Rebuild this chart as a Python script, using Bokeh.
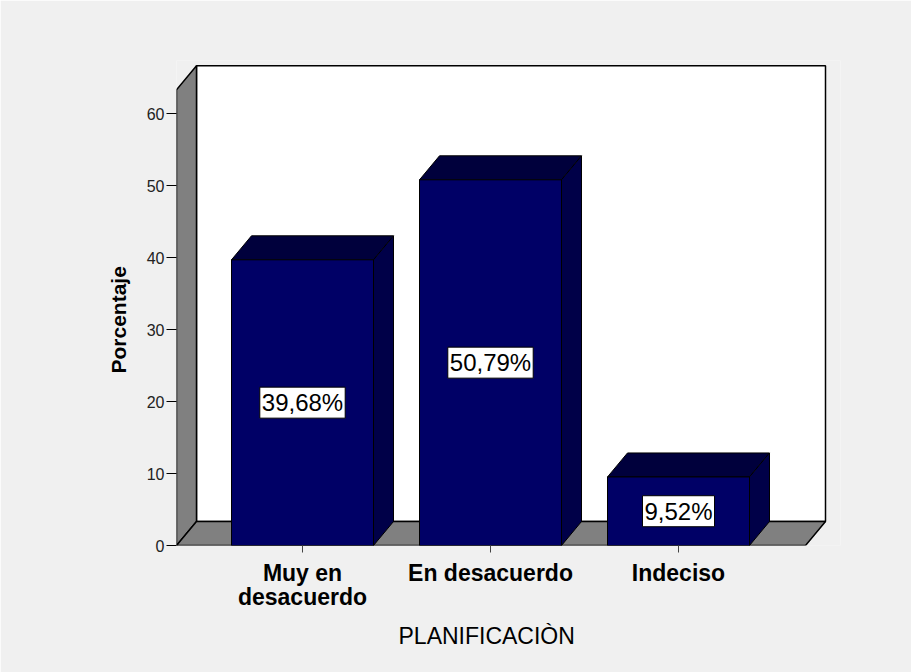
from bokeh.plotting import figure
from bokeh.models import Range1d, FixedTicker, ColumnDataSource, Title
from bokeh.core.properties import value
from bokeh.embed import file_html
from bokeh.resources import INLINE

# ---- data ----
categories = ["Muy en\ndesacuerdo", "En desacuerdo", "Indeciso"]
percentages = [39.68, 50.79, 9.52]
pct_labels = ["39,68%", "50,79%", "9,52%"]
y_ticks = [0, 10, 20, 30, 40, 50, 60]
x_title = "PLANIFICACIÒN"
y_title = "Porcentaje"
positions = [1, 2, 3]

# ---- layout constants ----
PX_X = 188.0            # px per category unit
PX_Y = 7.2              # px per percent
FRAME_W, FRAME_H = 664, 485
X_START = 1 - 126.0 / PX_X
X_END = X_START + FRAME_W / PX_X
Y_END = FRAME_H / PX_Y
DX = 20.0 / PX_X        # depth offset (data units)
DY = 24.0 / PX_Y
WALL_X0 = X_START
WALL_X1 = 1 + (805 - 302) / PX_X
WALL_TOP = 63.3
BAR_W = 142.0 / PX_X

BG = "#f0f0f0"
GRAY = "#808080"
FRONT = "#000066"
TOP = "#00003c"
SIDE = "#000048"

p = figure(width=911, height=672, output_backend="svg", toolbar_location=None,
           x_range=Range1d(X_START, X_END), y_range=Range1d(0, Y_END),
           min_border_left=176, min_border_right=71, min_border_top=60,
           min_border_bottom=127)
p.background_fill_color = BG
p.border_fill_color = BG
p.outline_line_color = None
p.grid.visible = False

# back wall
p.quad(left=[WALL_X0 + DX], right=[WALL_X1 + DX], bottom=[DY], top=[WALL_TOP + DY],
       fill_color="white", line_color="black", line_width=1.5)
# left wall
p.patch(x=[WALL_X0, WALL_X0 + DX, WALL_X0 + DX, WALL_X0],
        y=[0, DY, WALL_TOP + DY, WALL_TOP],
        fill_color=GRAY, line_color="black", line_width=1.5)
# floor
p.patch(x=[WALL_X0, WALL_X1, WALL_X1 + DX, WALL_X0 + DX],
        y=[0, 0, DY, DY],
        fill_color=GRAY, line_color="black", line_width=1.5)

# bars
for c, v in zip(positions, percentages):
    l, r = c - BAR_W / 2, c + BAR_W / 2
    p.patch(x=[l, r, r + DX, l + DX], y=[v, v, v + DY, v + DY],
            fill_color=TOP, line_color="black", line_width=1)
    p.patch(x=[r, r + DX, r + DX, r], y=[0, DY, v + DY, v],
            fill_color=SIDE, line_color="black", line_width=1)
    p.quad(left=[l], right=[r], bottom=[0], top=[v],
           fill_color=FRONT, line_color="black", line_width=1)

src = ColumnDataSource(dict(x=positions, y=[v / 2 for v in percentages], t=pct_labels))
p.text(x="x", y="y", text="t", source=src,
       text_font=value("Liberation Sans"), text_font_size="24px",
       text_align="center", text_baseline="middle", text_color="black",
       background_fill_color="white", border_line_color="black",
       border_line_width=1, padding=2)

# y axis
ya = p.yaxis[0]
ya.ticker = FixedTicker(ticks=y_ticks)
ya.axis_line_color = None
ya.major_tick_out = 10
ya.major_tick_in = 0
ya.major_tick_line_color = "black"
ya.minor_tick_line_color = None
ya.major_label_text_font = "Liberation Sans"
ya.major_label_text_font_size = "16px"
ya.major_label_text_color = "#222222"
ya.major_label_standoff = 2

# x axis
xa = p.xaxis[0]
xa.ticker = FixedTicker(ticks=positions)
xa.major_label_overrides = {c: lab for c, lab in zip(positions, categories)}
xa.axis_line_color = None
xa.major_tick_out = 7
xa.major_tick_in = 0
xa.major_tick_line_color = "#444444"
xa.minor_tick_line_color = None
xa.major_label_text_font = "Liberation Sans"
xa.major_label_text_font_size = "23px"
xa.major_label_text_font_style = "bold"
xa.major_label_text_color = "black"
xa.major_label_text_line_height = 0.93
xa.major_label_standoff = 7

# axis titles (offset so they centre on the front plane, as in the original)
x_t = Title(text=x_title, align="left", offset=222, standoff=16,
            text_font="Liberation Sans", text_font_size="23px",
            text_font_style="normal", text_color="black")
p.add_layout(x_t, "below")
y_t = Title(text=y_title, align="left", offset=172, standoff=28,
            text_font="Liberation Sans", text_font_size="21px",
            text_font_style="bold", text_color="black")
p.add_layout(y_t, "left")

open("out.html", "w").write(file_html(p, INLINE))
